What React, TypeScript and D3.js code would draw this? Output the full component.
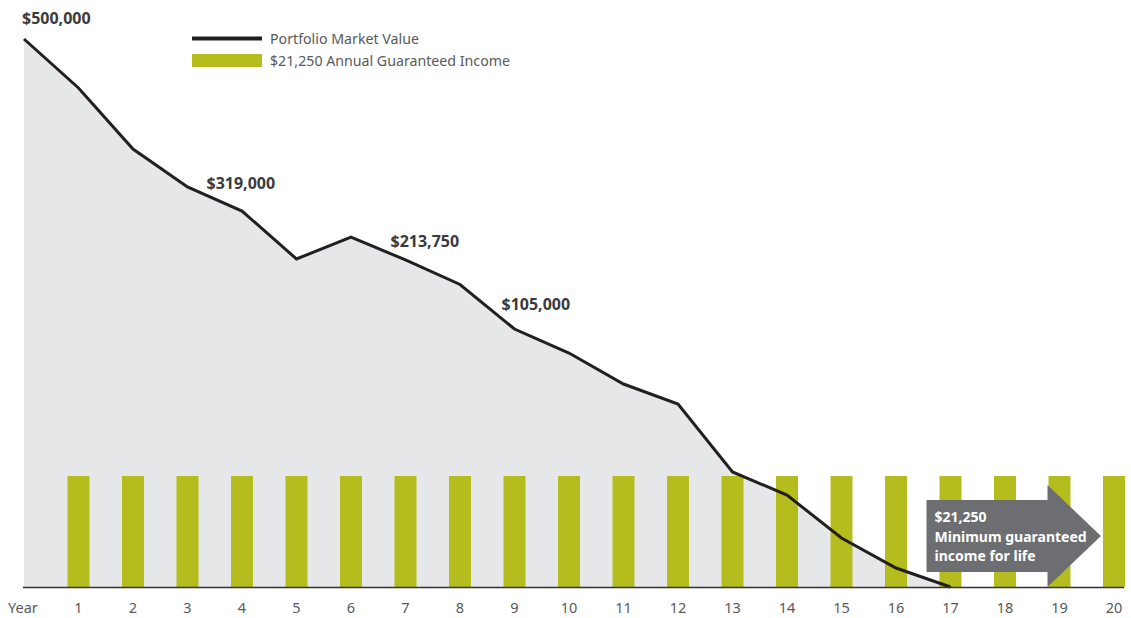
import React from "react";
import * as d3 from "d3";

const years: number[] = Array.from({ length: 21 }, (_, i) => i);
const portfolioValues: number[] = [
  500000, 455300, 399600, 365000, 343000, 299300, 319300, 298400, 276000,
  235400, 213500, 185200, 167000, 105000, 83900, 44700, 17300, 0,
];
const incomeYears: number[] = Array.from({ length: 20 }, (_, i) => i + 1);
const incomeValue = 21250;
const tickLabels: string[] = ["Year", ...incomeYears.map(String)];
const valueLabels = [
  { year: 0, value: 500000, text: "$500,000", dx: -2, dy: -15 },
  { year: 3, value: 365000, text: "$319,000", dx: 19, dy: 2 },
  { year: 7, value: 298400, text: "$213,750", dx: -15, dy: -13 },
  { year: 9, value: 235400, text: "$105,000", dx: -13, dy: -19 },
];
const arrowLines = ["$21,250", "Minimum guaranteed", "income for life"];

const W = 1131;
const H = 618;
const FONT = "'Noto Sans', 'Open Sans', sans-serif";

export default function App() {
  const x = d3.scaleLinear().domain([0, 20]).range([24, 1114]);
  const y = d3.scaleLinear().domain([0, 500000]).range([587, 39]);
  const yBar = d3.scaleLinear().domain([0, incomeValue]).range([587, 476]);
  const barW = 22;

  const pts: [number, number][] = portfolioValues.map((v, i) => [x(i), y(v)]);
  const line = d3.line()(pts) || "";
  const area =
    d3
      .area<[number, number]>()
      .x((d) => d[0])
      .y0(y(0))
      .y1((d) => d[1])(pts) || "";

  // arrow annotation geometry (in year units)
  const ax0 = x(16.56);
  const axHead = x(18.78);
  const axTip = x(19.76);
  const yMid = 536;
  const bodyHalf = 36;
  const headHalf = 51;
  const arrowPath = `M${ax0},${yMid - bodyHalf} L${axHead},${yMid - bodyHalf} L${axHead},${yMid - headHalf} L${axTip},${yMid} L${axHead},${yMid + headHalf} L${axHead},${yMid + bodyHalf} L${ax0},${yMid + bodyHalf} Z`;

  return (
    <div style={{ position: "fixed", left: 0, top: 0 }}>
      <svg width={W} height={H} style={{ display: "block", background: "#fff" }} fontFamily={FONT}>
        <path d={area} fill="#e6e7e8" />
        {incomeYears.map((yr) => (
          <rect
            key={yr}
            x={x(yr) - barW / 2}
            y={yBar(incomeValue)}
            width={barW}
            height={yBar(0) - yBar(incomeValue)}
            fill="#b5bd1e"
          />
        ))}
        <path d={line} fill="none" stroke="#231f20" strokeWidth={3} strokeLinejoin="miter" />
        <line x1={23} x2={1124} y1={587.5} y2={587.5} stroke="#333" strokeWidth={1.6} />
        {tickLabels.map((t, i) => (
          <text
            key={t}
            x={i === 0 ? 8 : x(i)}
            y={613}
            textAnchor={i === 0 ? "start" : "middle"}
            fontSize={14.5}
            fill="#58595b"
          >
            {t}
          </text>
        ))}
        {valueLabels.map((l) => (
          <text
            key={l.text}
            x={x(l.year) + l.dx}
            y={y(l.value) + l.dy}
            fontSize={16}
            fontWeight="bold"
            fill="#3a3a3c"
          >
            {l.text}
          </text>
        ))}
        <path d={arrowPath} fill="#6d6e71" />
        {arrowLines.map((t, i) => (
          <text
            key={t}
            x={ax0 + 8}
            y={522 + i * 19.5}
            fontSize={14}
            fontWeight="bold"
            fill="#fff"
          >
            {t}
          </text>
        ))}
        <g>
          <line x1={192} x2={262} y1={38.5} y2={38.5} stroke="#231f20" strokeWidth={4} />
          <text x={270} y={44} fontSize={14.2} fill="#58595b">
            Portfolio Market Value
          </text>
          <rect x={192} y={54} width={70} height={13} fill="#b5bd1e" />
          <text x={270} y={66} fontSize={14.2} fill="#58595b">
            $21,250 Annual Guaranteed Income
          </text>
        </g>
      </svg>
    </div>
  );
}
